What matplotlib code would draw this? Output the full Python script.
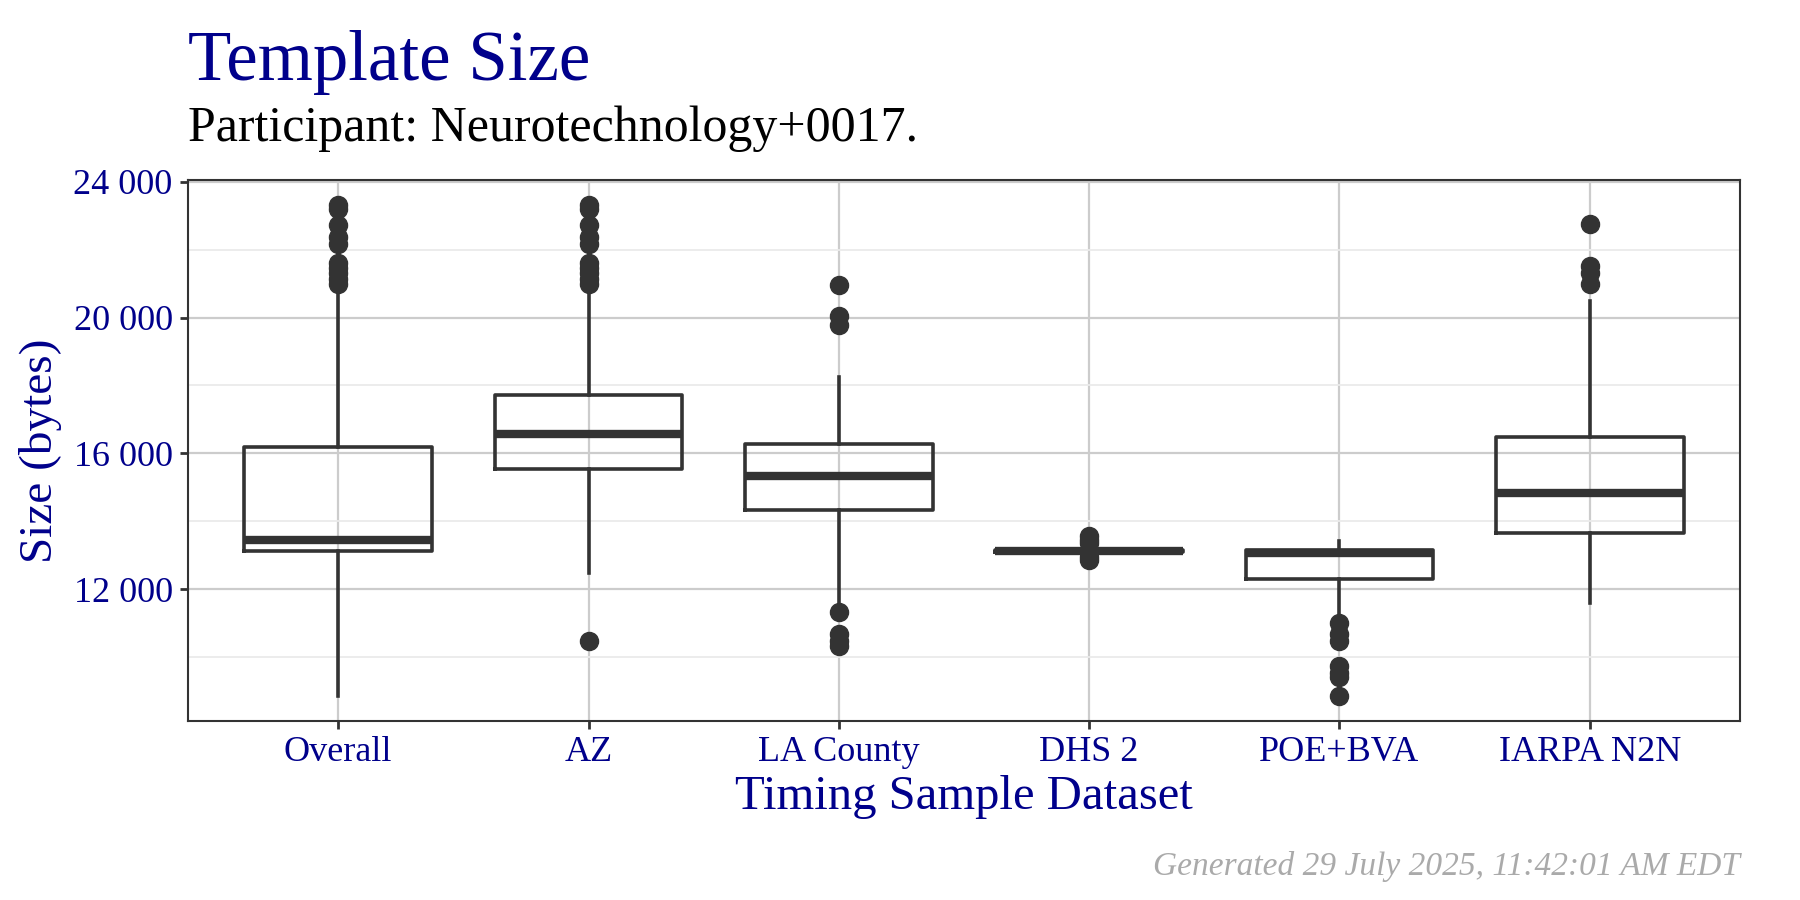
import matplotlib
matplotlib.use("Agg")
import matplotlib.pyplot as plt

# datasets on the x axis
datasets = ["Overall", "AZ", "LA County", "DHS 2", "POE+BVA", "IARPA N2N"]

# box statistics (bytes)
whislo = [8845, 12470, 11575, 13100, 11206, 11575]
q1 = [13109, 15544, 14344, 13100, 12290, 13649]
med = [13446, 16555, 15344, 13125, 13049, 14839]
q3 = [16183, 17714, 16282, 13150, 13144, 16471]
whishi = [20683, 20683, 18261, 13150, 13417, 20493]

# outliers per dataset
fliers = [
    [23329, 23200, 22736, 22370, 22160, 21600, 21450, 21300, 21150, 21000],
    [23329, 23200, 22736, 22370, 22160, 21600, 21450, 21300, 21150, 21000, 10469],
    [20946, 20051, 19788, 11311, 10680, 10469, 10311],
    [13550, 13450, 13350, 12950, 12850],
    [10996, 10680, 10469, 9732, 9521, 9416, 8837],
    [22757, 21525, 21315, 21000],
]

yticks = [12000, 16000, 20000, 24000]
yminor = [10000, 14000, 18000, 22000]

navy = "#00008B"
dark = "#333333"
serif = "Liberation Serif"

stats = []
for i, name in enumerate(datasets):
    stats.append(dict(label=name, whislo=whislo[i], q1=q1[i], med=med[i],
                      q3=q3[i], whishi=whishi[i], fliers=fliers[i]))

fig = plt.figure(figsize=(18, 9), dpi=100)
ax = fig.add_axes([188 / 1800, 1 - 721 / 900, (1740 - 188) / 1800, (721 - 180) / 900])

positions = list(range(1, len(datasets) + 1))
ax.bxp(stats, positions=positions, widths=0.75, showfliers=True,
       boxprops=dict(color=dark, linewidth=2.6),
       whiskerprops=dict(color=dark, linewidth=2.6),
       capprops=dict(linewidth=0),
       medianprops=dict(color=dark, linewidth=6, solid_capstyle="butt"),
       flierprops=dict(marker="o", markersize=13, markerfacecolor=dark,
                       markeredgecolor=dark))

# ggplot-like expansion
lo, hi = 8837, 23329
pad = (hi - lo) * 0.05
ax.set_ylim(lo - pad, hi + pad)
ax.set_xlim(0.4, len(datasets) + 0.6)

ax.set_yticks(yticks)
ax.set_yticklabels([f"{v:,}".replace(",", " ") for v in yticks])
ax.set_yticks(yminor, minor=True)
ax.set_xticks(positions)
ax.set_xticklabels(datasets)

ax.grid(True, which="major", color="#CCCCCC", linewidth=1.6, zorder=0)
ax.grid(True, which="minor", axis="y", color="#EBEBEB", linewidth=1.3, zorder=0)
ax.set_axisbelow(True)
for s in ax.spines.values():
    s.set_color(dark)
    s.set_linewidth(1.5)

ax.tick_params(which="major", length=6, width=2, color=dark, labelsize=26,
               labelcolor=navy, pad=5)
ax.tick_params(which="minor", length=0)
for lab in ax.get_xticklabels() + ax.get_yticklabels():
    lab.set_fontfamily(serif)

ax.set_xlabel("Timing Sample Dataset", fontsize=35, color=navy, family=serif, labelpad=4)
ax.set_ylabel("Size (bytes)", fontsize=34, color=navy, family=serif, labelpad=8)

fig.text(188 / 1800, 1 - 80 / 900, "Template Size", fontsize=51, color=navy,
         family=serif, ha="left", va="baseline")
fig.text(188 / 1800, 1 - 141 / 900, "Participant: Neurotechnology+0017.", fontsize=36,
         color="black", family=serif, ha="left", va="baseline")
fig.text(1740 / 1800, 1 - 875 / 900, "Generated 29 July 2025, 11:42:01 AM EDT",
         fontsize=24, color="#AAAAAA", family=serif, style="italic",
         ha="right", va="baseline")

fig.savefig("out.png", dpi=100)
